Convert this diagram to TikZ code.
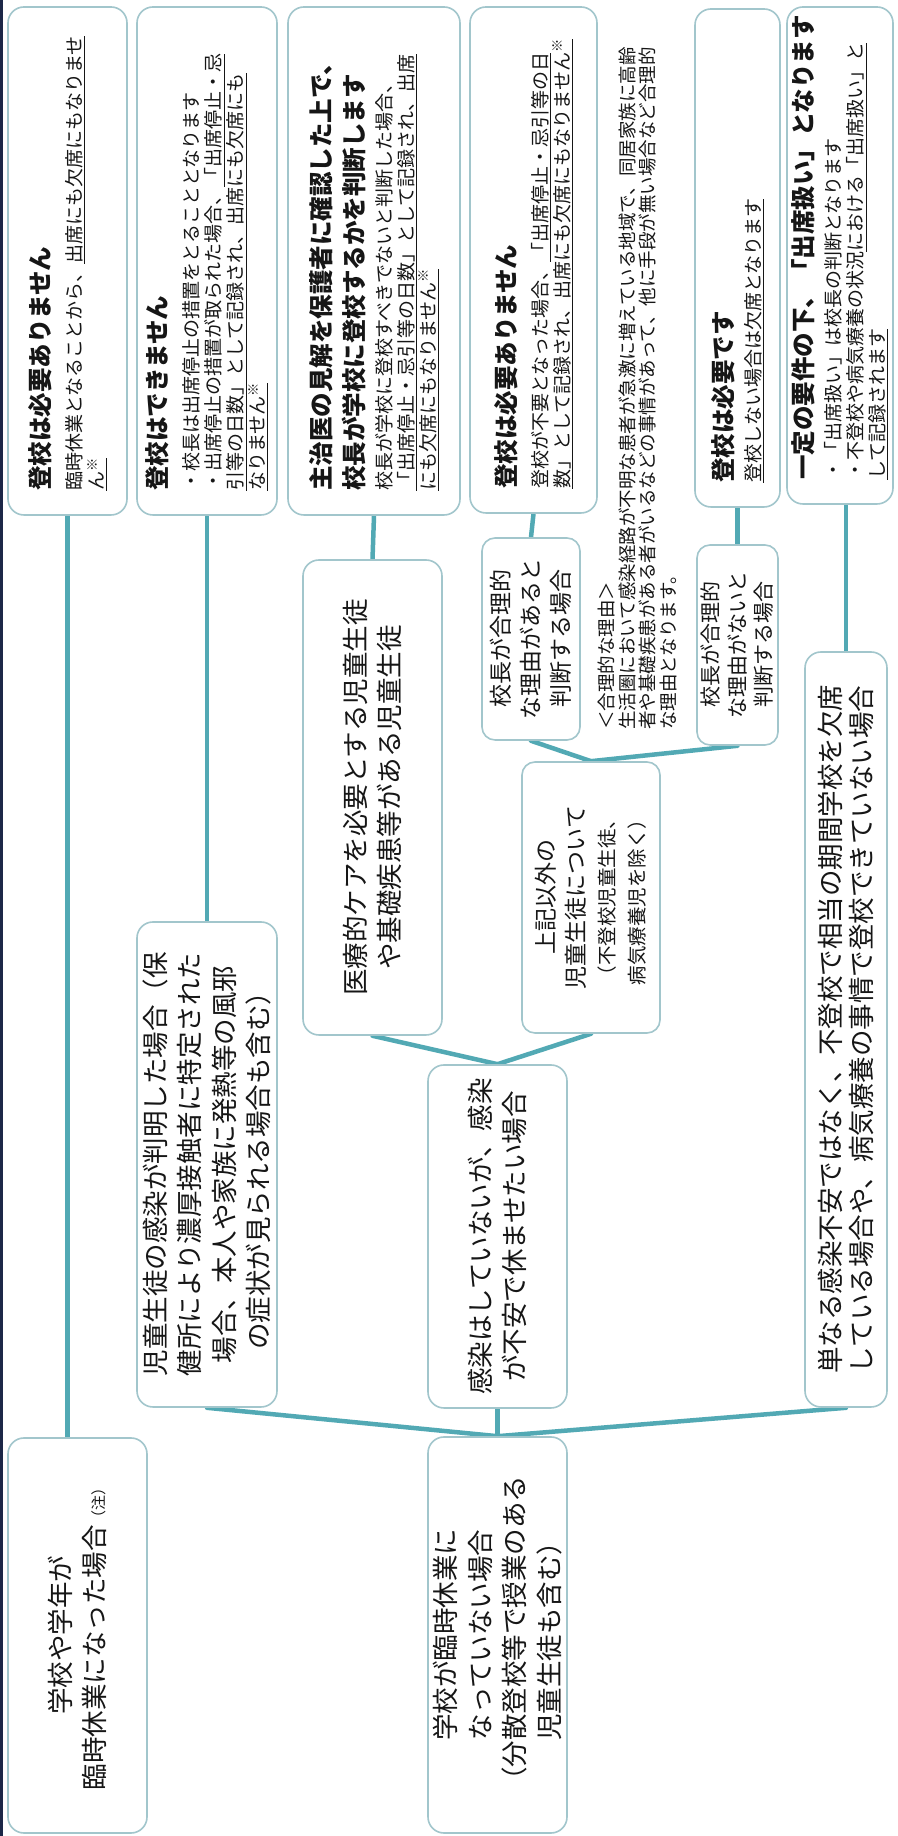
\documentclass[tikz,border=0pt]{standalone}
\usepackage{fontspec}
\setmainfont{Noto Sans CJK JP}
\usetikzlibrary{backgrounds}
\definecolor{ink}{HTML}{161616}
\definecolor{lagoon}{HTML}{52A9B4}
\definecolor{frost}{HTML}{A2C6CC}
\definecolor{midnight}{HTML}{1C2747}
\newcommand{\verdict}[1]{{\fontsize{24.5}{30}\selectfont\bfseries #1}}
\newcommand{\undl}[1]{\underline{#1}}
\newcommand{\kome}{\textsuperscript{※}}
\tikzset{
  %% nodes
  boxed/.style   = {rounded corners=16pt, draw=frost, line width=1.6pt, fill=white,
                    text=ink, inner sep=0pt},
  case/.style    = {boxed, align=center, font=\fontsize{26.5}{34.5}\selectfont},
  subcase/.style = {case, rounded corners=13pt, font=\fontsize{23}{30}\selectfont},
  result/.style  = {boxed, align=left, inner xsep=24pt, font=\fontsize{19}{22}\selectfont},
  note/.style    = {align=left, inner sep=0pt, text=ink, font=\fontsize{18.5}{20.5}\selectfont},
  %% connectors
  link/.style    = {draw=lagoon, line width=4.5pt, line cap=round},
}

\begin{document}
\begin{tikzpicture}[x=1pt, y=1pt, rotate=90, transform shape]

\path[use as bounding box] (0,0) rectangle (1836,-897);
\draw[midnight, line width=3.5pt] (0,-1.5) -- (1836,-1.5);

%% starting cases
\node[case, minimum width=395pt, minimum height=139pt] (closed) at (200.5,-77.5)
  {学校や学年が\\臨時休業になった場合{\fontsize{15}{15}\selectfont（注）}};
\node[case, minimum width=396pt, minimum height=139pt] (open) at (201,-497.5)
  {学校が臨時休業に\\なっていない場合\\（分散登校等で授業のある\\児童生徒も含む）};

%% second level
\node[case, minimum width=485pt, minimum height=140pt] (infected) at (671.5,-207)
  {児童生徒の感染が判明した場合（保\\健所により濃厚接触者に特定された\\場合、本人や家族に発熱等の風邪\\の症状が見られる場合も含む）};
\node[case, minimum width=343pt, minimum height=139pt] (anxious) at (599.5,-497.5)
  {感染はしていないが、感染\\が不安で休ませたい場合};
\node[case, minimum width=755pt, minimum height=82pt, font=\fontsize{26.5}{31}\selectfont] (absent) at (806.5,-846)
  {単なる感染不安ではなく、不登校で相当の期間学校を欠席\\している場合や、病気療養の事情で登校できていない場合};

%% third level
\node[case, minimum width=475pt, minimum height=139pt] (medical) at (1038.5,-372.5)
  {医療的ケアを必要とする児童生徒\\や基礎疾患等がある児童生徒};
\node[subcase, minimum width=271pt, minimum height=138pt] (others) at (938.5,-591)
  {上記以外の\\児童生徒について\\{\fontsize{19.5}{19.5}\selectfont（不登校児童生徒、}\\{\fontsize{19.5}{19.5}\selectfont 病気療養児を除く）}};
\node[subcase, minimum width=202pt, minimum height=98pt] (reasonable) at (1197,-531)
  {校長が合理的\\な理由があると\\判断する場合};
\node[subcase, minimum width=200pt, minimum height=81pt, font=\fontsize{21}{26.5}\selectfont] (unreasonable) at (1191,-737.5)
  {校長が合理的\\な理由がないと\\判断する場合};

\node[note, anchor=north west] (reason) at (1106,-598)
  {＜合理的な理由＞\\
   生活圏において感染経路が不明な患者が急激に増えている地域で、同居家族に高齢\\
   者や基礎疾患がある者がいるなどの事情があって、他に手段が無い場合など合理的\\
   な理由となります。};

%% results
\node[result, minimum width=508pt, minimum height=119pt, text width=460pt] (noneed) at (1575,-67.5)
  {\verdict{登校は必要ありません}\\[10pt]
   臨時休業となることから、\undl{出席にも欠席にもなりませ}\\
   \undl{ん\kome}};
\node[result, minimum width=508pt, minimum height=140pt, text width=460pt] (cannot) at (1575,-207)
  {\verdict{登校はできません}\\[10pt]
   ・校長は出席停止の措置をとることとなります\\
   ・出席停止の措置が取られた場合、\undl{「出席停止・忌}\\
   \undl{引等の日数」として記録され、出席にも欠席にも}\\
   \undl{なりません\kome}};
\node[result, minimum width=508pt, minimum height=172pt, text width=460pt] (doctor) at (1575,-374)
  {\verdict{主治医の見解を保護者に確認した上で、}\\[8pt]
   \verdict{校長が学校に登校するかを判断します}\\[6pt]
   校長が学校に登校すべきでないと判断した場合、\\
   \undl{「出席停止・忌引等の日数」として記録され、出席}\\
   \undl{にも欠席にもなりません\kome}};
\node[result, minimum width=506pt, minimum height=127pt, text width=458pt] (excused) at (1576,-533.5)
  {\verdict{登校は必要ありません}\\[10pt]
   登校が不要となった場合、\undl{「出席停止・忌引等の日}\\
   \undl{数」として記録され、出席にも欠席にもなりません\kome}};
\node[result, minimum width=498pt, minimum height=85pt, text width=450pt] (needed) at (1578,-737.5)
  {\verdict{登校は必要です}\\[6pt]
   \undl{登校しない場合は欠席となります}};
\node[result, minimum width=497pt, minimum height=106pt, text width=449pt] (deemed) at (1580.5,-840)
  {\verdict{一定の要件の下、「出席扱い」となります}\\[6pt]
   ・「出席扱い」は校長の判断となります\\
   ・不登校や病気療養の状況\undl{における「出席扱い」と}\\
   \undl{して記録されます}};

%% links
\begin{scope}[on background layer]
\fill[white] (0,0) rectangle (1836,-897);
\draw[link] (closed.east |- noneed.west) -- (noneed.west);
\draw[link] (open.east) -- (infected.west);
\draw[link] (open.east) -- (anxious.west);
\draw[link] (open.east) -- (absent.west);
\draw[link] (infected.east) -- (cannot.west);
\draw[link] (anxious.east) -- (medical.west);
\draw[link] (anxious.east) -- (others.west);
\draw[link] (medical.east) -- (doctor.west);
\draw[link] (others.east) -- (reasonable.west);
\draw[link] (others.east) -- (unreasonable.west);
\draw[link] (reasonable.east) -- (excused.west);
\draw[link] (unreasonable.east) -- (needed.west);
\draw[link] (absent.east) -- (deemed.west |- absent.east);
\end{scope}

\end{tikzpicture}
\end{document}
